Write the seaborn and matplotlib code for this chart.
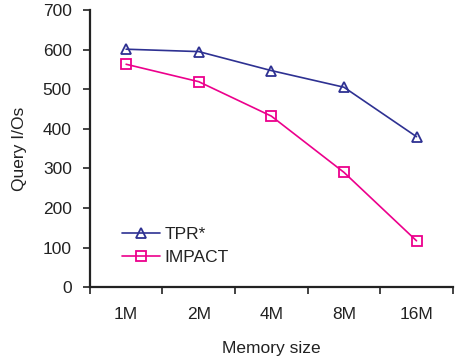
import pandas as pd
import seaborn as sns
import matplotlib.pyplot as plt
from matplotlib.ticker import FixedLocator, NullFormatter

memory = ['1M', '2M', '4M', '8M', '16M']
tpr = [601, 595, 547, 505, 380]
impact = [563, 519, 432, 290, 117]

df = pd.DataFrame({
    'Memory size': memory * 2,
    'Query I/Os': tpr + impact,
    'method': ['TPR*'] * 5 + ['IMPACT'] * 5,
})

sns.set_style('ticks')
plt.rcParams['font.family'] = ['Liberation Sans', 'DejaVu Sans']
plt.rcParams['text.color'] = '#222222'
plt.rcParams['axes.labelcolor'] = '#222222'
plt.rcParams['xtick.color'] = '#222222'
plt.rcParams['ytick.color'] = '#222222'

fig = plt.figure(figsize=(4.56, 3.58), dpi=100)
ax = fig.add_axes([0.197, 0.198, 0.796, 0.774])

sns.lineplot(data=df, x='Memory size', y='Query I/Os', hue='method', style='method',
             markers={'TPR*': '^', 'IMPACT': 's'}, dashes=False,
             palette={'TPR*': '#2e3192', 'IMPACT': '#ec008c'},
             markersize=7, markeredgewidth=1.3,
             linewidth=1.2, sort=False, ax=ax)

# hollow markers
for line in ax.lines:
    line.set_markerfacecolor('none')
    line.set_markeredgecolor(line.get_color())

ax.set_xlim(-0.5, 4.5)
ax.set_ylim(0, 700)
ax.set_yticks(range(0, 701, 100))
ax.xaxis.set_major_locator(FixedLocator([i - 0.5 for i in range(6)]))
ax.xaxis.set_major_formatter(NullFormatter())
ax.xaxis.set_minor_locator(FixedLocator(range(5)))
ax.set_xticklabels(memory, minor=True)
ax.tick_params(axis='x', which='minor', length=0, pad=14, labelsize=12.5)
ax.tick_params(axis='x', which='major', length=5, width=1.2)
ax.tick_params(axis='y', length=5, width=1.2, labelsize=12.5, pad=8)

for s in ['top', 'right']:
    ax.spines[s].set_visible(False)
for s in ['left', 'bottom']:
    ax.spines[s].set_linewidth(1.6)
    ax.spines[s].set_color('#222222')

ax.set_xlabel('Memory size', fontsize=12.5, labelpad=14)
ax.set_ylabel('Query I/Os', fontsize=12.5, labelpad=11)

handles, labels = ax.get_legend_handles_labels()
for h in handles:
    h.set_markerfacecolor('none')
ax.legend(handles, labels, loc='lower left', bbox_to_anchor=(0.065, 0.05),
          frameon=False, fontsize=12.5, handlelength=2.2, handletextpad=0.25,
          labelspacing=0.45, borderpad=0)

fig.savefig('out.png', dpi=100)
